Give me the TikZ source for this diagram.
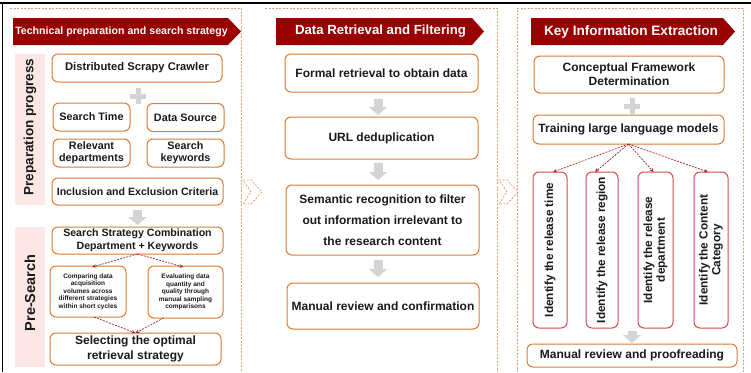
\documentclass[tikz,border=0pt]{standalone}
\usepackage{fontspec}
\setmainfont{Liberation Sans}
\usetikzlibrary{arrows.meta,calc}

\definecolor{hdrred}{HTML}{990000}
\definecolor{boxorange}{HTML}{DC7A30}
\definecolor{frameorange}{HTML}{E8A272}
\definecolor{sidepink}{HTML}{FCE6E6}
\definecolor{arrowgray}{HTML}{D4D4D4}
\definecolor{linkred}{HTML}{A3202C}
\definecolor{catred}{HTML}{D44A4A}
\definecolor{textdark}{HTML}{1A1A1A}

\newcommand{\fs}[1]{\fontsize{#1}{#1}\selectfont}

\begin{document}
\begin{tikzpicture}[x=1pt,y=-1pt,
  every node/.style={inner sep=0pt, outer sep=0pt, text=textdark, font=\bfseries\fs{10.8}},
  stagebox/.style={draw=boxorange, line width=1pt, rounded corners=6pt, fill=white, align=center},
  catbox/.style={draw=catred, line width=1pt, rounded corners=6pt, fill=white,
                 minimum height=156pt, align=center},
  cattext/.style={rotate=90, align=center, font=\bfseries\fs{11.8}},
  panelframe/.style={draw=frameorange, line width=0.8pt, dash pattern=on 2pt off 1.5pt},
  sidebar/.style={fill=sidepink, draw=none},
  sidetext/.style={rotate=90, font=\bfseries\fs{13.5}},
  header/.style={fill=hdrred, draw=none},
  headtext/.style={text=white, font=\bfseries\fs{13.2}},
  flowarrow/.style={draw=arrowgray, line width=9pt, -{Triangle[width=18pt,length=8pt]}},
  linkarrow/.style={draw=linkred, line width=0.7pt, dash pattern=on 2pt off 1.2pt,
                    -{Stealth[length=4pt,width=3.5pt]}},
  chevron/.style={draw=frameorange, line width=0.8pt, dash pattern=on 2pt off 1.5pt},
  big/.style={font=\bfseries\fs{12}}
]
\useasboundingbox (0,0) rectangle (751,372);
\fill[white] (0,0) rectangle (751,372);

% outer frame lines
\draw[black, line width=1.3pt] (0,3) -- (751,3);
\draw[black, line width=1.3pt] (2.5,3) -- (2.5,372);

% panel frames
\draw[panelframe] (10,8) -- (241,8) -- (241,372);
\draw[panelframe] (265,8) -- (497,8) -- (497,372);
\draw[panelframe] (517,372) -- (517,8) -- (743,8) -- (743,372);

% chevrons between panels
\draw[chevron] (243,180) -- (251,180) -- (262,192) -- (251,204) -- (243,204) -- (251,192) -- cycle;
\draw[chevron] (499,180) -- (507,180) -- (518,192) -- (507,204) -- (499,204) -- (507,192) -- cycle;

% headers
\path[header] (13,18) -- (228,18) -- (241,31.5) -- (228,45) -- (13,45) -- cycle;
\node[headtext, font=\bfseries\fs{10.6}] (h1) at (121.5,31.5) {Technical preparation and search strategy};
\path[header] (276,18) -- (472,18) -- (484,31.5) -- (472,45) -- (276,45) -- cycle;
\node[headtext] (h2) at (380.5,31.5) {Data Retrieval and Filtering};
\path[header] (531,18) -- (723,18) -- (735,31.5) -- (723,45) -- (531,45) -- cycle;
\node[headtext, font=\bfseries\fs{13.6}] (h3) at (631,31.5) {Key Information Extraction};

% ---------- panel 1 ----------
\path[sidebar] (15,54) rectangle (45,205);
\node[sidetext] (prep) at (30,127) {Preparation progress};
\path[sidebar] (15,227) rectangle (45,367);
\node[sidetext, font=\bfseries\fs{14.5}] (pres) at (30,293) {Pre-Search};

\node[stagebox, minimum width=170pt, minimum height=28pt, font=\bfseries\fs{11.2}] (crawler) at (137,68) {Distributed Scrapy Crawler};
\fill[arrowgray] (135.5,88) rectangle (140.5,104);
\fill[arrowgray] (130,93.5) rectangle (146,98.5);
\node[stagebox, minimum width=77pt, minimum height=28pt] (stime) at (91.5,117) {Search Time};
\node[stagebox, minimum width=77pt, minimum height=28pt] (dsrc) at (185.5,117.5) {Data Source};
\node[stagebox, minimum width=77pt, minimum height=28pt] (reldep) at (91.5,153) {Relevant\\[1pt]departments};
\node[stagebox, minimum width=77pt, minimum height=28pt] (skey) at (185.5,153) {Search\\[1pt]keywords};
\node[stagebox, minimum width=171pt, minimum height=27pt, font=\bfseries\fs{10.6}] (incl) at (137.5,191.5) {Inclusion and Exclusion Criteria};
\node[stagebox, minimum width=171pt, minimum height=27pt, font=\bfseries\fs{10.6}] (strat) at (137.5,240.5)
  {Search Strategy Combination\\[2pt]Department + Keywords};
\node[stagebox, minimum width=76pt, minimum height=51pt, font=\bfseries\fs{6.5}] (comp) at (88,291.5)
  {Comparing data\\[1pt]acquisition\\[1pt]volumes across\\[1pt]different strategies\\[1pt]within short cycles};
\node[stagebox, minimum width=75pt, minimum height=52pt, font=\bfseries\fs{6.5}] (eval) at (185.5,292)
  {Evaluating data\\[1pt]quantity and\\[1pt]quality through\\[1pt]manual sampling\\[1pt]comparisons};
\node[stagebox, minimum width=171pt, minimum height=32pt, font=\bfseries\fs{12}] (sel) at (135.5,349)
  {Selecting the optimal\\[2.5pt]retrieval strategy};

\draw[flowarrow] ($(incl.south)+(0,5)$) -- ($(strat.north)+(0,-2)$);
\draw[linkarrow] (strat.south) -- ($(comp.north)+(4,1)$);
\draw[linkarrow] (strat.south) -- ($(eval.north)+(-2,1)$);
\draw[linkarrow] ($(comp.south)+(6,0)$) -- (sel.north);
\draw[linkarrow] ($(eval.south)+(-22,0)$) -- (sel.north);

% ---------- panel 2 ----------
\node[stagebox, big, minimum width=193pt, minimum height=38pt] (formal) at (381.5,73) {Formal retrieval to obtain data};
\node[stagebox, big, minimum width=193pt, minimum height=42pt] (url) at (381.5,138) {URL deduplication};
\node[stagebox, big, minimum width=193pt, minimum height=70pt] (sem) at (382.5,220)
  {Semantic recognition to filter\\[9pt]out information irrelevant to\\[9pt]the research content};
\node[stagebox, big, minimum width=192pt, minimum height=46pt] (manual) at (383,306) {Manual review and confirmation};

\draw[flowarrow] ($(formal.south)+(-3.5,7)$) -- ($(url.north)+(-3.5,-2)$);
\draw[flowarrow] ($(url.south)+(-3.5,4)$) -- ($(sem.north)+(-4.5,-5)$);
\draw[flowarrow] ($(sem.south)+(-4.5,5)$) -- ($(manual.north)+(-5,-6)$);

% ---------- panel 3 ----------
\node[stagebox, big, minimum width=190pt, minimum height=37pt] (concept) at (629,74.5)
  {Conceptual Framework\\[2pt]Determination};
\fill[arrowgray] (629.5,98) rectangle (634.5,114);
\fill[arrowgray] (624,103.5) rectangle (640,108.5);
\node[stagebox, big, minimum width=191pt, minimum height=29pt] (train) at (628.5,129.5) {Training large language models};

\node[catbox, minimum width=34pt] (c1) at (550,250) {};
\node[cattext] at (c1.center) {Identify the release time};
\node[catbox, minimum width=32pt] (c2) at (602,250) {};
\node[cattext] at (c2.center) {Identify the release region};
\node[catbox, minimum width=35pt] (c3) at (655.5,250) {};
\node[cattext] at (c3.center) {Identify the release\\[1pt]department};
\node[catbox, minimum width=34pt] (c4) at (711,250) {};
\node[cattext] at (c4.center) {Identify the Content\\[1pt]Category};

\coordinate (fan) at (train.south);
\draw[linkarrow] (fan) -- ($(c1.north)+(3,0)$);
\draw[linkarrow] (fan) -- ($(c2.north)+(-7,0)$);
\draw[linkarrow] (fan) -- ($(c3.north)+(-2,0)$);
\draw[linkarrow] (fan) -- ($(c4.north)+(-3,0)$);

\node[stagebox, big, minimum width=210pt, minimum height=23pt] (proof) at (632,355.5) {Manual review and proofreading};
\draw[flowarrow] (632,331) -- ($(proof.north)+(0,-1)$);

\end{tikzpicture}
\end{document}
